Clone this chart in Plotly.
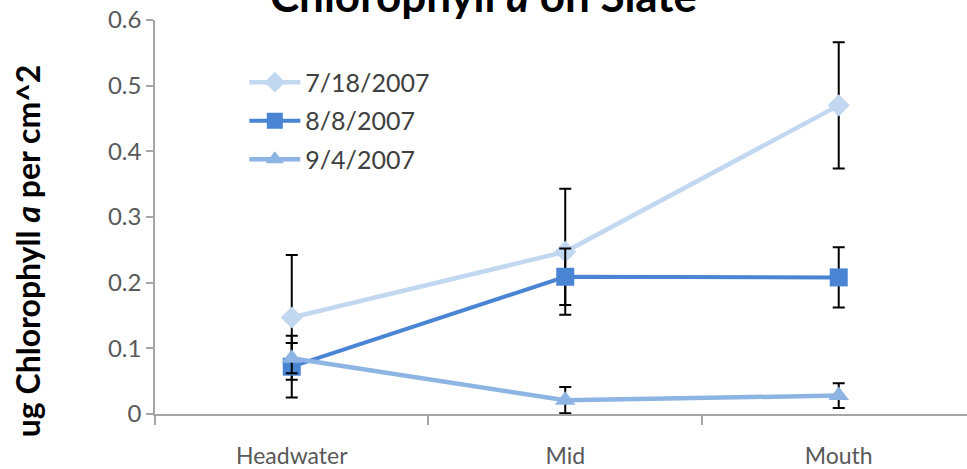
import plotly.graph_objects as go

# Sampling sites along the stream
sites = ["Headwater", "Mid", "Mouth"]

# Mean chlorophyll a (ug per cm^2) and error per sampling date
jul18 = [0.147, 0.247, 0.470]
jul18_err = [0.095, 0.096, 0.096]

aug8 = [0.072, 0.209, 0.208]
aug8_err = [0.047, 0.043, 0.046]

sep4 = [0.085, 0.021, 0.028]
sep4_err = [0.023, 0.020, 0.019]

series = [
    ("7/18/2007", jul18, jul18_err, "#C2D7F0", "diamond", 17, 4.5),
    ("8/8/2007", aug8, aug8_err, "#4A85D3", "square", 18, 4),
    ("9/4/2007", sep4, sep4_err, "#8DB4E2", "triangle-up", 18, 4.5),
]

FONT = "Lato, Carlito, Calibri, sans-serif"

fig = go.Figure()
for name, vals, errs, color, symbol, msize, lw in series:
    fig.add_trace(go.Scatter(
        x=sites, y=vals, name=name, legendgroup=name,
        mode="lines+markers",
        line=dict(color=color, width=lw),
        marker=dict(symbol=symbol, size=msize, color=color),
        error_y=dict(type="data", array=errs, visible=True,
                     color="black", thickness=2, width=6),
    ))

fig.update_layout(
    width=967, height=469,
    margin=dict(l=155, r=0, t=20, b=55),
    paper_bgcolor="white", plot_bgcolor="white",
    font=dict(family=FONT, size=22, color="#595959"),
    showlegend=True,
    legend=dict(
        x=0.11, y=0.9, xanchor="left", yanchor="top",
        bgcolor="rgba(0,0,0,0)", font=dict(size=25, color="#404040"),
        tracegroupgap=3, itemwidth=51,
    ),
    xaxis=dict(
        type="category", range=[-0.5, 2.469],
        showline=True, linecolor="#A6A6A6", linewidth=1.5,
        ticks="outside", tickson="boundaries", ticklen=9,
        tickcolor="#A6A6A6", tickwidth=1.5,
        showgrid=False, zeroline=False,
        ticklabelstandoff=21,
        tickfont=dict(size=23, color="#595959"),
    ),
    yaxis=dict(
        range=[0, 0.6], dtick=0.1, tick0=0,
        showline=True, linecolor="#A6A6A6", linewidth=1.5,
        ticks="outside", ticklen=7, tickcolor="#A6A6A6", tickwidth=1.5,
        showgrid=False, zeroline=False,
        tickfont=dict(size=24, color="#595959"),
    ),
    annotations=[
        dict(text="<b>Chlorophyll <i>a</i> on Slate</b>",
             xref="paper", yref="paper", x=0.405, y=0.992,
             xanchor="center", yanchor="bottom", showarrow=False,
             font=dict(size=44, color="black", family=FONT)),
        dict(text="<b>ug Chlorophyll <i>a</i> per cm^2</b>",
             xref="paper", yref="paper", x=-0.156, y=0.414,
             xanchor="center", yanchor="middle", showarrow=False,
             textangle=-90,
             font=dict(size=32, color="black", family=FONT)),
    ],
)

fig.write_html("out.html")
